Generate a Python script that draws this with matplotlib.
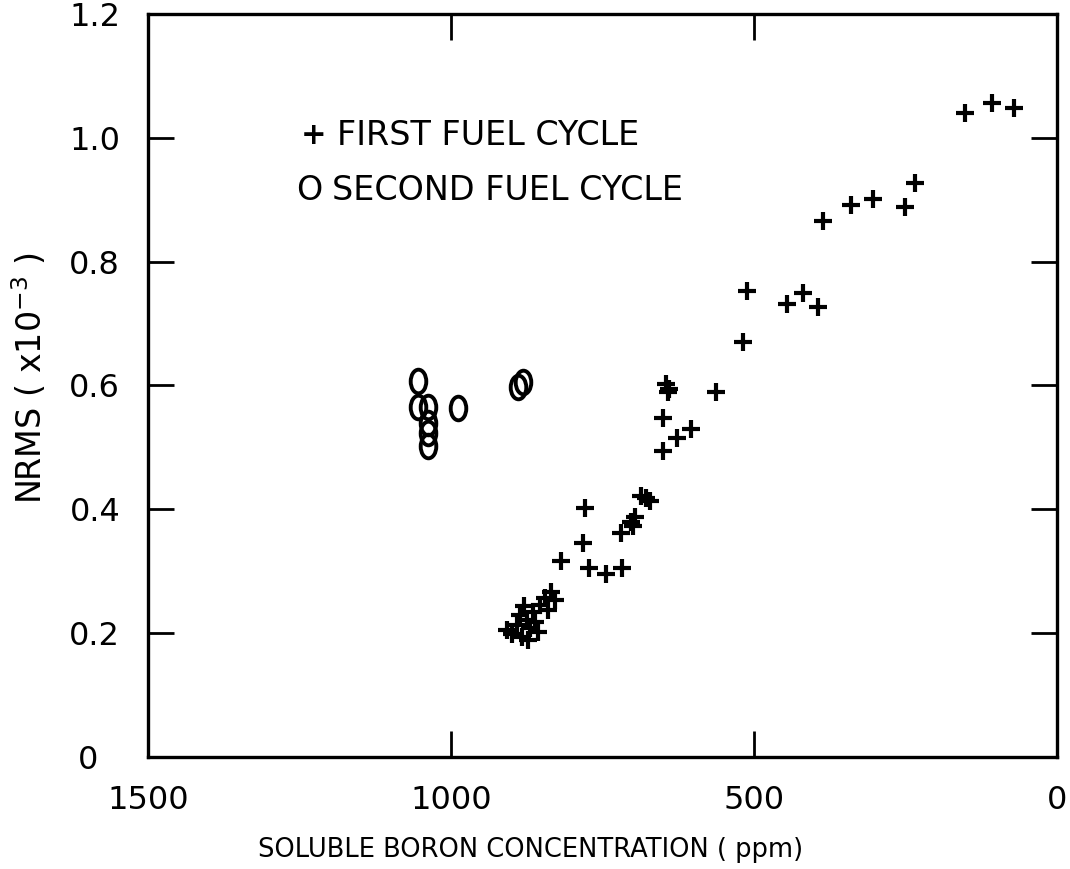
import matplotlib
matplotlib.use("Agg")
import matplotlib.pyplot as plt
from matplotlib.path import Path
from matplotlib.transforms import Affine2D, ScaledTranslation

# ---- data ----
first_boron = [152, 107, 71, 386, 340, 304, 251, 234, 512, 446, 419, 394,
               518, 645, 640, 642, 563, 650, 627, 604, 650,
               779, 782, 818, 772, 744, 718, 719, 703, 697, 700,
               686, 678, 672,
               908, 899, 891, 883, 873, 886, 875, 865, 870, 856, 853,
               845, 840, 835, 828, 861, 880]
first_nrms = [1.040, 1.056, 1.048, 0.866, 0.892, 0.902, 0.889, 0.927, 0.753, 0.732, 0.750, 0.726,
              0.671, 0.603, 0.595, 0.590, 0.589, 0.548, 0.516, 0.529, 0.495,
              0.402, 0.345, 0.316, 0.306, 0.295, 0.305, 0.361, 0.379, 0.388, 0.373,
              0.422, 0.418, 0.414,
              0.205, 0.198, 0.213, 0.194, 0.189, 0.229, 0.221, 0.234, 0.208, 0.202, 0.245,
              0.256, 0.237, 0.266, 0.253, 0.218, 0.244]

second_boron = [1054, 1054, 1038, 1038, 1038, 1038, 988, 889, 881]
second_nrms = [0.608, 0.566, 0.566, 0.540, 0.523, 0.503, 0.563, 0.598, 0.606]

x_ticks = [1500, 1000, 500, 0]
x_tick_labels = ["1500", "1000", "500", "0"]
y_ticks = [0, 0.2, 0.4, 0.6, 0.8, 1.0, 1.2]
y_tick_labels = ["0", "0.2", "0.4", "0.6", "0.8", "1.0", "1.2"]

# ---- figure ----
fig = plt.figure(figsize=(10.70, 8.69), dpi=100)
ax = fig.add_axes([148/1070, 1 - 757/869, (1057-148)/1070, (757-14)/869])

ellipse = Path.unit_circle().transformed(Affine2D().scale(0.66, 1.0))

ax.plot(first_boron, first_nrms, linestyle="none", marker="+", color="black",
        markersize=13.5, markeredgewidth=3.0)
ax.plot(second_boron, second_nrms, linestyle="none", marker=ellipse, color="black",
        markerfacecolor="none", markersize=17, markeredgewidth=2.8)

ax.set_xlim(1500, 0)
ax.set_ylim(0, 1.2)
ax.set_xticks(x_ticks)
ax.set_xticklabels(x_tick_labels)
ax.set_yticks(y_ticks)
ax.set_yticklabels(y_tick_labels)

for s in ax.spines.values():
    s.set_linewidth(2.4)

ax.tick_params(axis="both", direction="in", length=19, width=2.0,
               top=True, right=True, labelsize=23)
ax.tick_params(axis="y", pad=20)
ax.tick_params(axis="x", pad=20)

# the "0" label on the y axis sits further left in the original
zero_lab = ax.yaxis.get_major_ticks()[0].label1
zero_lab.set_transform(zero_lab.get_transform() +
                       ScaledTranslation(-16/72, 0, fig.dpi_scale_trans))

ax.set_xlabel("SOLUBLE BORON CONCENTRATION ( ppm)", fontsize=18.5)
ax.xaxis.set_label_coords(0.421, -0.108)
ax.set_ylabel(r"NRMS ( x10$^{-3}$ )", fontsize=24)
ax.yaxis.set_label_coords(-0.109, 0.510)

# legend drawn as text
ax.text(0.168, 0.837, "+", transform=ax.transAxes, fontsize=22, va="center", ha="left",
        fontweight="bold")
ax.text(0.208, 0.837, "FIRST FUEL CYCLE", transform=ax.transAxes, fontsize=24,
        va="center", ha="left")
ax.text(0.163, 0.762, "O", transform=ax.transAxes, fontsize=24, va="center", ha="left")
ax.text(0.2024, 0.762, "SECOND FUEL CYCLE", transform=ax.transAxes, fontsize=24,
        va="center", ha="left")

fig.savefig("out.png", dpi=100)
